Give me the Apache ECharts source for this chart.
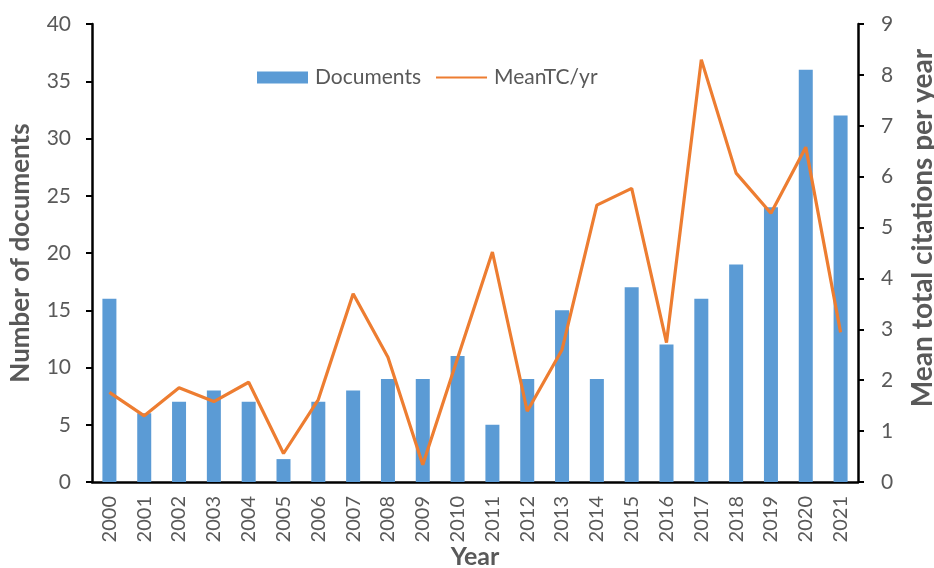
<!DOCTYPE html>
<html>
<head>
<meta charset="utf-8">
<script src="https://cdn.jsdelivr.net/npm/echarts@6/dist/echarts.min.js"></script>
<style>
  html, body { margin: 0; padding: 0; background: #fff; }
  #chart { width: 934px; height: 568px; }
</style>
</head>
<body>
<div id="chart"></div>
<script>
// chart data
var years = ['2000', '2001', '2002', '2003', '2004', '2005', '2006', '2007', '2008', '2009', '2010',
  '2011', '2012', '2013', '2014', '2015', '2016', '2017', '2018', '2019', '2020', '2021']
var documents = [16, 6, 7, 8, 7, 2, 7, 8, 9, 9, 11, 5, 9, 15, 9, 17, 12, 16, 19, 24, 36, 32]
var meanTC = [1.76, 1.30, 1.85, 1.58, 1.96, 0.56, 1.62, 3.70, 2.45, 0.34, 2.43,
  4.52, 1.39, 2.60, 5.44, 5.77, 2.74, 8.30, 6.07, 5.28, 6.58, 2.94]

var font = 'Lato'
var gray = '#595959'

var chart = echarts.init(document.getElementById('chart'))
chart.setOption({
  animation: false,
  textStyle: { fontFamily: font },
  grid: { left: 92, right: 76, top: 24, bottom: 86, containLabel: false, outerBoundsMode: 'none' },
  legend: {
    left: 252,
    top: 62,
    itemWidth: 51,
    itemHeight: 12,
    itemGap: 14,
    textStyle: { fontSize: 21, color: gray, fontFamily: font, padding: [0, 0, 0, 2] },
    data: [
      { name: 'Documents', icon: 'rect' },
      { name: 'MeanTC/yr', itemStyle: { opacity: 0 } }
    ]
  },
  xAxis: {
    type: 'category',
    data: years,
    name: 'Year',
    nameLocation: 'middle',
    nameGap: 62,
    nameMoveOverlap: false,
    nameTextStyle: { fontSize: 25, fontWeight: 'bold', color: gray },
    axisLine: { lineStyle: { color: '#000', width: 2.5 } },
    axisTick: { alignWithLabel: true, length: 6, lineStyle: { color: '#000', width: 2 } },
    axisLabel: { rotate: 90, fontSize: 20, color: gray, margin: 14 }
  },
  yAxis: [{
    type: 'value',
    min: 0,
    max: 40,
    interval: 5,
    name: 'Number of documents',
    nameLocation: 'middle',
    nameRotate: 90,
    nameGap: 58,
    nameTextStyle: { fontSize: 26, fontWeight: 'bold', color: gray },
    splitLine: { show: false },
    axisLine: { show: true, lineStyle: { color: '#000', width: 2.5 } },
    axisTick: { show: true, length: 6, lineStyle: { color: '#000', width: 2 } },
    axisLabel: { fontSize: 21, color: gray, margin: 21 }
  }, {
    type: 'value',
    min: 0,
    max: 9,
    interval: 1,
    name: 'Mean total citations per year',
    nameLocation: 'middle',
    nameRotate: 90,
    nameGap: 51,
    nameTextStyle: { fontSize: 28, fontWeight: 'bold', color: gray, padding: [0, 0, 0, 50] },
    splitLine: { show: false },
    axisLine: { show: true, lineStyle: { color: '#000', width: 2.5 } },
    axisTick: { show: true, length: 6, lineStyle: { color: '#000', width: 2 } },
    axisLabel: { fontSize: 21, color: gray, margin: 23 }
  }],
  series: [{
    name: 'Documents',
    type: 'bar',
    data: documents,
    barWidth: 14,
    itemStyle: { color: '#5B9BD5' }
  }, {
    name: 'MeanTC/yr',
    type: 'line',
    yAxisIndex: 1,
    data: meanTC,
    symbol: 'none',
    lineStyle: { color: '#ED7D31', width: 3.2 },
    itemStyle: { color: '#ED7D31' }
  }]
})
</script>
</body>
</html>
